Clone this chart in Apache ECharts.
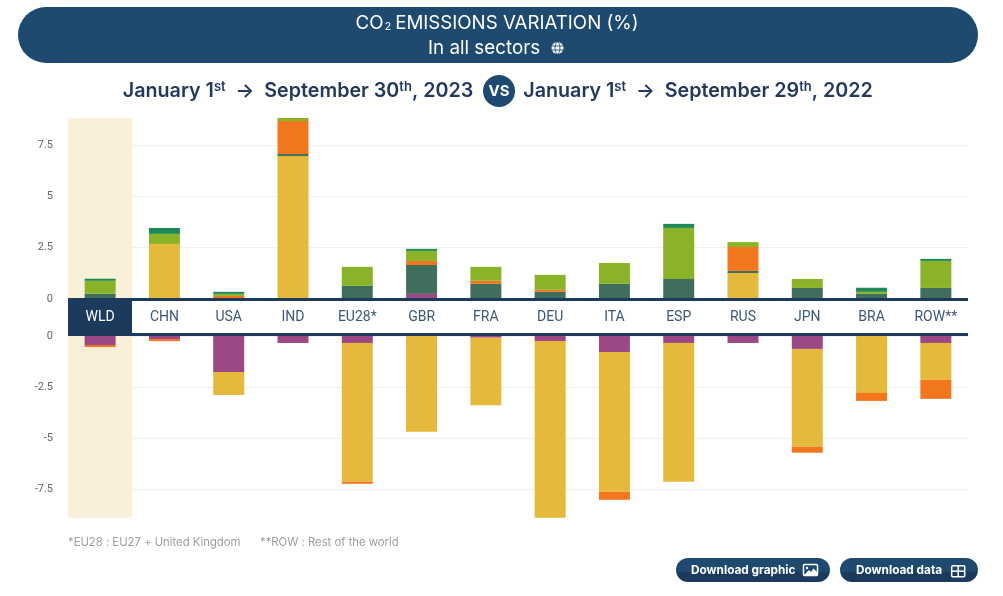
<!DOCTYPE html>
<html><head><meta charset="utf-8">
<script src="https://cdn.jsdelivr.net/npm/echarts@6/dist/echarts.min.js"></script>
<style>html,body{margin:0;padding:0;background:#fff}#c{width:1003px;height:596px}</style></head>
<body><div id="c"></div>
<script>
const categories = ['WLD','CHN','USA','IND','EU28*','GBR','FRA','DEU','ITA','ESP','RUS','JPN','BRA','ROW**'];
const upTicks = [0,2.5,5,7.5];
const downTicks = [0,-2.5,-5,-7.5];
const upOther    = [0,0,0,0,0,0.24,0,0,0,0,0,0,0,0];
const upCoal     = [0,2.68,0,6.97,0,0,0,0,0,0,1.26,0,0,0];
const upTeal     = [0.25,0,0,0.1,0.63,1.41,0.73,0.34,0.73,0.97,0.1,0.53,0.24,0.53];
const upOrange   = [0,0,0.14,1.61,0,0.2,0.15,0.1,0,0,1.17,0,0,0];
const upLime     = [0.63,0.49,0.1,0.15,0.93,0.49,0.68,0.73,1.02,2.49,0.24,0.44,0.1,1.32];
const upGreen    = [0.1,0.29,0.1,0,0,0.1,0,0,0,0.2,0,0,0.2,0.1];
const downPurple = [-0.44,-0.15,-1.76,-0.34,-0.34,0,-0.08,-0.25,-0.78,-0.34,-0.34,-0.63,0,-0.34];
const downYellow = [0,0,-1.12,0,-6.78,-4.68,-3.3,-8.63,-6.83,-6.78,0,-4.78,-2.78,-1.8];
const downOrange = [-0.1,-0.1,0,0,-0.1,0,0,0,-0.39,0,0,-0.29,-0.39,-0.93];
const upMax = 8.83, downMin = -8.88;

const C = {purple:'#9B4885',yellow:'#E5B93B',teal:'#3F6F5C',orange:'#F2761E',lime:'#8AB329',green:'#1F8A58',navy:'#1B3A5C',pill:'#1D4A6E',ink:'#23395B'};
const TF = 'Inter, "Noto Sans", sans-serif';
const NF = 'Roboto, sans-serif';
const bar = (name,data,color,stack,xi,extra)=>Object.assign({name,type:'bar',stack,data,barWidth:31,xAxisIndex:xi,yAxisIndex:xi,itemStyle:{color},silent:true},extra||{});
const hl = (lo,hi)=>({markArea:{silent:true,itemStyle:{color:'#FAF0DA'},data:[[{xAxis:'WLD',yAxis:lo},{xAxis:'WLD',yAxis:hi}]]}});
const split = {show:true,lineStyle:{color:'#EFEFEF',width:1}};
const ylabel = (ticks,pad)=>({customValues:ticks,color:'#666',fontFamily:NF,fontSize:11,margin:15,padding:[pad,0,0,0],formatter:v=>String(v)});
const btnFill = ()=>new echarts.graphic.LinearGradient(0,0,0,1,[{offset:0,color:'#1D4A6E'},{offset:0.6,color:'#1D4A6E'},{offset:0.6,color:'#1B3A5C'},{offset:1,color:'#1B3A5C'}]);
const dateRich = {a:{fontFamily:TF,fontSize:19.7,fontWeight:600,fill:C.ink},u:{fontFamily:TF,fontSize:13,fontWeight:600,fill:C.ink,verticalAlign:'top',padding:[0,0,7,0]}};

const option = {
  animation:false,
  backgroundColor:'#fff',
  grid:[{left:68,right:35,top:118,height:180.8},{left:68,right:35,top:336,height:181.8}],
  xAxis:[
    {type:'category',gridIndex:0,data:categories,z:10,axisLine:{show:false},axisTick:{show:false},
      axisLabel:{interval:0,margin:19,verticalAlign:'middle',fontFamily:NF,fontSize:14,
        color:v=>v==='WLD'?'#fff':'#3B5878'}},
    {type:'category',gridIndex:1,data:categories,axisLine:{show:false},axisTick:{show:false},axisLabel:{show:false}}
  ],
  yAxis:[
    {type:'value',gridIndex:0,min:0,max:upMax,axisLine:{show:false},axisTick:{show:false,customValues:upTicks},axisLabel:ylabel(upTicks,3),splitLine:split},
    {type:'value',gridIndex:1,min:downMin,max:0,axisLine:{show:false},axisTick:{show:false,customValues:downTicks},axisLabel:ylabel(downTicks,2),splitLine:split}
  ],
  series:[
    bar('Other',upOther,C.purple,'up',0,hl(0,upMax)),
    bar('Coal',upCoal,C.yellow,'up',0),
    bar('Teal',upTeal,C.teal,'up',0),
    bar('Orange',upOrange,C.orange,'up',0),
    bar('Lime',upLime,C.lime,'up',0),
    bar('Green',upGreen,C.green,'up',0),
    bar('Other',downPurple,C.purple,'down',1,hl(downMin,0)),
    bar('Coal',downYellow,C.yellow,'down',1),
    bar('Orange',downOrange,C.orange,'down',1)
  ],
  graphic:{elements:[
    {type:'rect',z:5,shape:{x:18,y:7,width:960,height:56,r:28},style:{fill:C.pill}},
    {type:'text',z:6,x:497,y:23,style:{text:'{a|CO}{s|2}{a|EMISSIONS VARIATION (%)}',align:'center',verticalAlign:'middle',rich:{a:{fontFamily:TF,fontSize:18.7,fill:'#fff',fontWeight:400},s:{fontFamily:TF,fontSize:11,fill:'#fff',verticalAlign:'bottom',padding:[6,4,0,1]}}}},
    {type:'text',z:6,x:428,y:48.5,style:{text:'In all sectors',align:'left',verticalAlign:'middle',fontFamily:TF,fontSize:18.8,fill:'#fff'}},
    {type:'group',z:6,x:557.5,y:48,children:[
      {type:'circle',z:6,shape:{cx:0,cy:0,r:6},style:{fill:'#fff'}},
      {type:'ellipse',z:7,shape:{cx:0,cy:0,rx:2.4,ry:6},style:{fill:'none',stroke:C.pill,lineWidth:0.9}},
      {type:'line',z:7,shape:{x1:-6,y1:-2,x2:6,y2:-2},style:{stroke:C.pill,lineWidth:0.9}},
      {type:'line',z:7,shape:{x1:-6,y1:2,x2:6,y2:2},style:{stroke:C.pill,lineWidth:0.9}}
    ]},
    {type:'text',z:6,x:298,y:91,style:{text:'{a|January 1}{u|st}{a|  →  September 30}{u|th}{a|, 2023}',align:'center',verticalAlign:'middle',rich:dateRich}},
    {type:'text',z:6,x:698,y:91,style:{text:'{a|January 1}{u|st}{a|  →  September 29}{u|th}{a|, 2022}',align:'center',verticalAlign:'middle',rich:dateRich}},
    {type:'circle',z:5,shape:{cx:499,cy:91,r:16},style:{fill:C.pill}},
    {type:'text',z:6,x:499,y:91.5,style:{text:'VS',align:'center',verticalAlign:'middle',fontFamily:TF,fontSize:15,fontWeight:700,fill:'#fff'}},
    {type:'rect',z:5,shape:{x:68,y:298,width:900,height:3},style:{fill:C.navy}},
    {type:'rect',z:5,shape:{x:68,y:333,width:900,height:3},style:{fill:C.navy}},
    {type:'rect',z:5,shape:{x:68,y:298,width:64,height:38},style:{fill:C.navy}},
    {type:'text',z:6,x:68,y:542.5,style:{text:'*EU28 : EU27 + United Kingdom',align:'left',verticalAlign:'middle',fontFamily:TF,fontSize:11.3,fill:'#A09C98'}},
    {type:'text',z:6,x:260,y:542.5,style:{text:'**ROW : Rest of the world',align:'left',verticalAlign:'middle',fontFamily:TF,fontSize:11.3,fill:'#A09C98'}},
    {type:'rect',z:5,shape:{x:676,y:558,width:154,height:24,r:12},style:{fill:btnFill()}},
    {type:'text',z:6,x:691,y:570,style:{text:'Download graphic',align:'left',verticalAlign:'middle',fontFamily:TF,fontSize:11.8,fontWeight:700,fill:'#fff'}},
    {type:'rect',z:6,shape:{x:803.5,y:564.5,width:14,height:11,r:1},style:{fill:'none',stroke:'#fff',lineWidth:1.5}},
    {type:'polygon',z:7,shape:{points:[[804,575],[809,570],[811,572],[813.5,568.5],[817,572],[817,575]]},style:{fill:'#fff'}},
    {type:'circle',z:7,shape:{cx:807,cy:568,r:1.2},style:{fill:'#fff'}},
    {type:'rect',z:5,shape:{x:840,y:558,width:138,height:24,r:12},style:{fill:btnFill()}},
    {type:'text',z:6,x:856,y:570,style:{text:'Download data',align:'left',verticalAlign:'middle',fontFamily:TF,fontSize:11.8,fontWeight:700,fill:'#fff'}},
    {type:'rect',z:6,shape:{x:951.7,y:565.7,width:13,height:11,r:1},style:{fill:'none',stroke:'#fff',lineWidth:1.5}},
    {type:'line',z:7,shape:{x1:958.2,y1:565,x2:958.2,y2:577},style:{stroke:'#fff',lineWidth:1.5}},
    {type:'line',z:7,shape:{x1:951,y1:571.2,x2:965,y2:571.2},style:{stroke:'#fff',lineWidth:1.5}}
  ]}
};
const chart = echarts.init(document.getElementById('c'),null,{renderer:'canvas'});
chart.setOption(option);
</script></body></html>
